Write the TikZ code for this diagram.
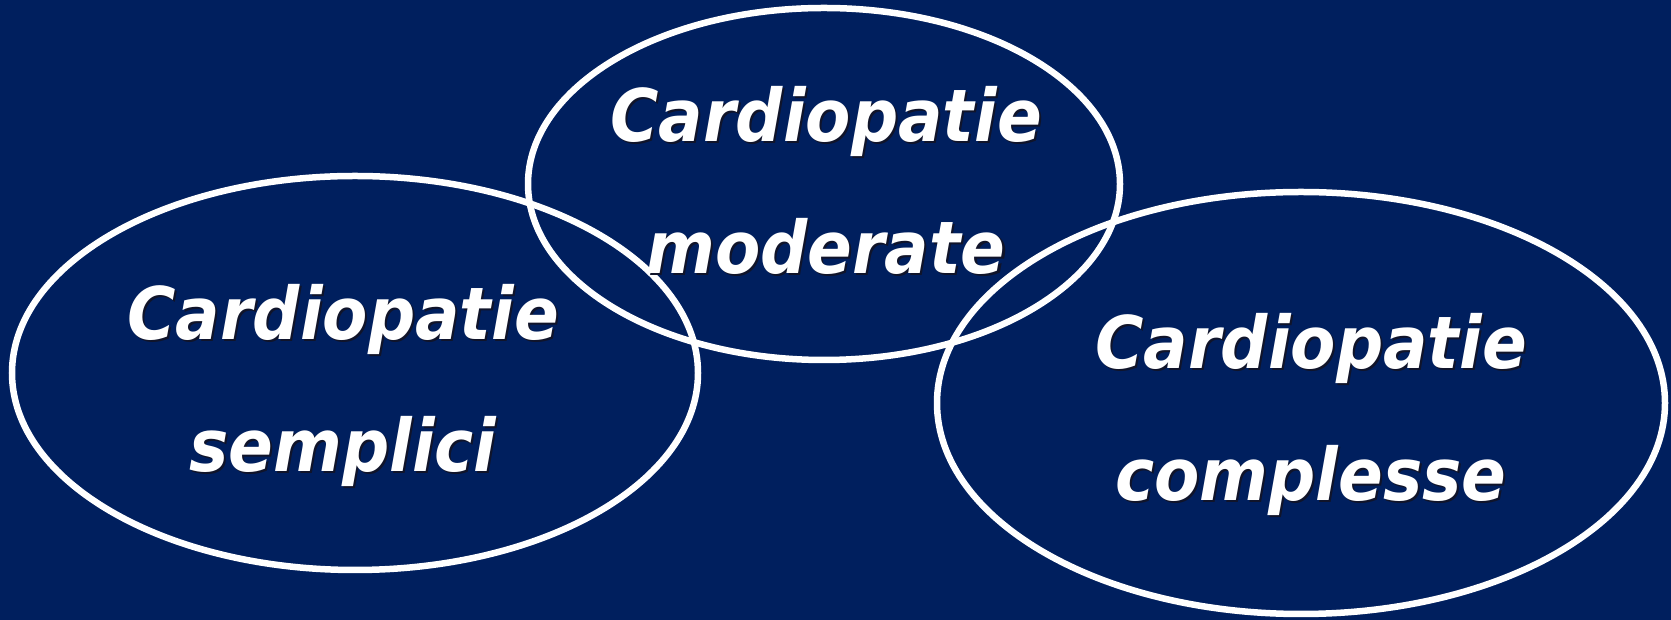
\documentclass[tikz,border=0pt]{standalone}
\usepackage{fontspec}
\setmainfont{DejaVu Sans}
\definecolor{fondo}{RGB}{0,31,94}
\definecolor{ombra}{RGB}{16,20,42}

\begin{document}
\begin{tikzpicture}[x=1pt,y=1pt]
\tikzset{insieme/.style={draw=white, line width=6.5pt},
  etichetta/.style={anchor=north, inner sep=0pt, align=center, text=white,
    yscale=1.1, transform shape,
    font=\fontsize{66}{120}\selectfont\bfseries\itshape},
  ombreggiata/.style={etichetta, text=ombra}}
\fill[fondo] (0,0) rectangle (1671,620);
\useasboundingbox (0,0) rectangle (1671,620);
\draw[insieme] (355,247) ellipse [x radius=343, y radius=197];
\draw[insieme] (824,436) ellipse [x radius=296, y radius=176];
\draw[insieme] (1301,217) ellipse [x radius=364, y radius=211];
% ombre
\node[ombreggiata] (Sombra) at (345,334) {Cardiopatie\\semplici};
\node[ombreggiata] (Mombra) at (828,532) {Cardiopatie\\moderate};
\node[ombreggiata] (Combra) at (1313,305) {Cardiopatie\\complesse};
% testi
\node[etichetta] (S) at (343,336) {Cardiopatie\\semplici};
\node[etichetta] (M) at (826,534) {Cardiopatie\\moderate};
\node[etichetta] (C) at (1311,307) {Cardiopatie\\complesse};
\end{tikzpicture}
\end{document}
